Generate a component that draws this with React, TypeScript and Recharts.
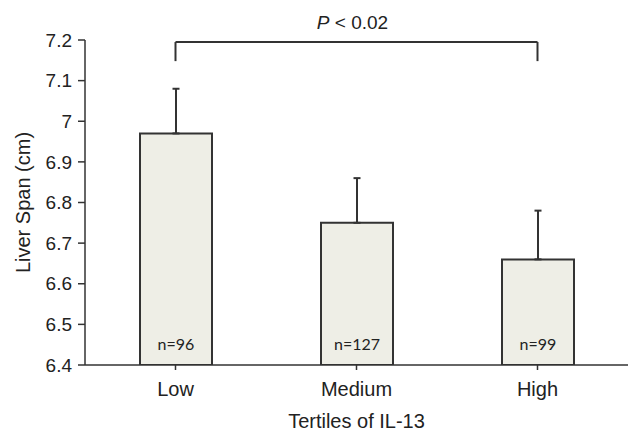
import React from 'react';
import { BarChart, Bar, XAxis, YAxis, ErrorBar, LabelList, ReferenceLine, Label } from 'recharts';

const categories = ['Low', 'Medium', 'High'];
const means = [6.97, 6.75, 6.66];
const upperErrors = [0.11, 0.11, 0.12];
const sampleLabels = ['n=96', 'n=127', 'n=99'];
const yTicks = [6.4, 6.5, 6.6, 6.7, 6.8, 6.9, 7, 7.1, 7.2];
const pLabel = 'P < 0.02';
const bracketTop = 7.195;
const bracketBottom = 7.148;

const data = categories.map((c, i) => ({
  name: c,
  value: means[i],
  err: [0, upperErrors[i]],
  n: sampleLabels[i],
}));

const FONT = '"Liberation Sans", Arial, sans-serif';
const TXT = '#222';

const NLabel = (props: any) => {
  const { x, y, width, height, value } = props;
  return (
    <text x={x + width / 2} y={y + height - 22} textAnchor="middle" dominantBaseline="central"
      fontFamily='Lato, "Open Sans", sans-serif' fontSize={16} fill={TXT}>{value}</text>
  );
};

const YLabel = (props: any) => {
  const { viewBox } = props;
  const cy = viewBox.y + viewBox.height / 2;
  return (
    <text x={23} y={cy} transform={`rotate(-90, 23, ${cy})`} textAnchor="middle" dominantBaseline="central"
      fontFamily={FONT} fontSize={20} fill={TXT}>Liver Span (cm)</text>
  );
};

const XLabel = (props: any) => {
  const { viewBox } = props;
  const cx = viewBox.x + viewBox.width / 2;
  return (
    <text x={cx} y={421} textAnchor="middle" dominantBaseline="central"
      fontFamily={FONT} fontSize={20} fill={TXT}>Tertiles of IL-13</text>
  );
};

const PLabel = (props: any) => {
  const { viewBox } = props;
  const cx = viewBox.x + viewBox.width / 2;
  return (
    <text x={cx - 4} y={22} textAnchor="middle" dominantBaseline="central"
      fontFamily={FONT} fontSize={19} fill={TXT}>
      <tspan fontStyle="italic">P</tspan>
      <tspan>{pLabel.slice(1)}</tspan>
    </text>
  );
};

export default function App() {
  return (
    <div style={{ position: 'absolute', left: 0, top: 0, width: 628, height: 432, background: '#fff' }}>
      <BarChart width={628} height={432} data={data} margin={{ top: 40, right: 0, bottom: 0, left: 0 }} barCategoryGap="20%">
        <XAxis dataKey="name" height={67} axisLine={{ stroke: '#333', strokeWidth: 1.5 }} tickLine={{ stroke: '#333', strokeWidth: 1.5 }}
          tickSize={5} tickMargin={12} interval={0}
          tick={{ fontFamily: FONT, fontSize: 20, fill: TXT }}>
          <Label content={<XLabel />} />
        </XAxis>
        <YAxis width={85} domain={[6.4, 7.2]} ticks={yTicks} allowDataOverflow
          axisLine={{ stroke: '#333', strokeWidth: 1.5 }} tickLine={{ stroke: '#333', strokeWidth: 1.5 }}
          tickSize={7} tickMargin={6}
          tick={{ fontFamily: FONT, fontSize: 19, fill: TXT }}>
          <Label content={<YLabel />} />
        </YAxis>
        <Bar dataKey="value" fill="#eeeee6" stroke="#333" strokeWidth={2} barSize={72} isAnimationActive={false}>
          <ErrorBar dataKey="err" direction="y" width={3.5} stroke="#333" strokeWidth={2} isAnimationActive={false} />
          <LabelList dataKey="n" content={<NLabel />} />
        </Bar>
        <ReferenceLine segment={[{ x: 'Low', y: bracketTop }, { x: 'High', y: bracketTop }]} stroke="#333" strokeWidth={2}>
          <Label content={<PLabel />} />
        </ReferenceLine>
        <ReferenceLine segment={[{ x: 'Low', y: bracketTop }, { x: 'Low', y: bracketBottom }]} stroke="#333" strokeWidth={2} />
        <ReferenceLine segment={[{ x: 'High', y: bracketTop }, { x: 'High', y: bracketBottom }]} stroke="#333" strokeWidth={2} />
      </BarChart>
    </div>
  );
}
